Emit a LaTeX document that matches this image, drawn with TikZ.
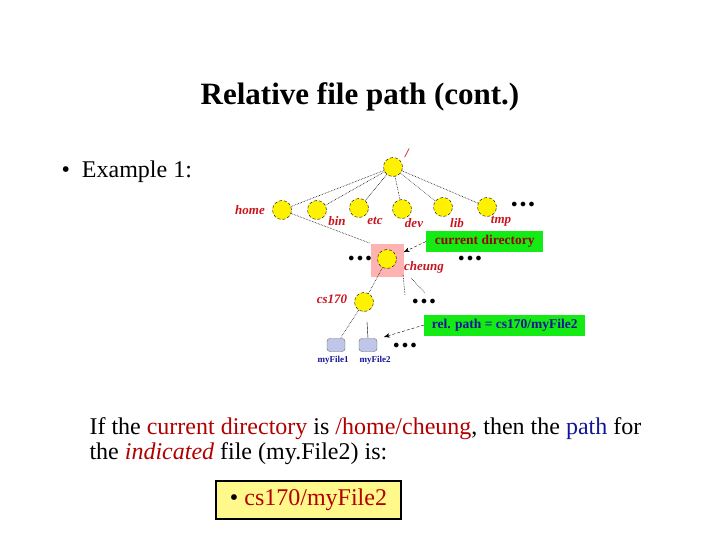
\documentclass[tikz,border=0pt]{standalone}
\usepackage{fontspec}
\setmainfont{Liberation Serif}
\usetikzlibrary{arrows.meta}
\definecolor{lbl}{RGB}{200,20,30}
\definecolor{fblue}{RGB}{20,20,150}
\definecolor{gbox}{RGB}{20,235,20}
\begin{document}
\begin{tikzpicture}[x=1pt,y=-1pt,
 dir/.style={circle,draw=black,densely dashed,fill=yellow,minimum size=19pt,inner sep=0pt},
 file/.style={rounded corners=3pt,draw=black!60,fill=cyan!35!blue!25,minimum width=18pt,minimum height=13pt,inner sep=0pt},
 lab/.style={text=lbl,font=\fontsize{13}{14}\selectfont\bfseries\itshape,inner sep=1pt},
 flab/.style={text=fblue,font=\fontsize{9}{10}\selectfont\bfseries,inner sep=1pt},
 link/.style={densely dotted,semithick},
 dots/.style={font=\fontsize{13}{13}\selectfont,inner sep=0pt},
 note/.style={fill=gbox,font=\fontsize{13.5}{14}\selectfont\bfseries,inner sep=2pt,anchor=west,minimum height=21pt},
 arr/.style={densely dashed,-{Stealth[length=6pt]}}]
\useasboundingbox (0,0) rectangle (720,540);
\node[font=\fontsize{31}{34}\selectfont\bfseries] (title) at (360,97) {Relative file path (cont.)};
\node[font=\fontsize{24}{28}\selectfont,anchor=west] (ex) at (58,172) {\textbullet\ \ Example 1:};
\node[fill=red!30,minimum size=33pt,inner sep=0pt] (pink) at (387,260) {};
\node[dir] (root) at (393,167) {};
\node[dir] (home) at (282,210) {};
\node[dir] (bin) at (317,210) {};
\node[dir] (etc) at (359,208) {};
\node[dir] (dev) at (402,209) {};
\node[dir] (lib) at (443,207) {};
\node[dir] (tmp) at (487,207) {};
\node[dots] (d1) at (523,205) {$\bullet\bullet\bullet$};
\node[dir] (cheung) at (387,259) {};
\node[dots] (d2) at (360,259) {$\bullet\bullet\bullet$};
\node[dots] (d3) at (470,259) {$\bullet\bullet\bullet$};
\node[dir] (cs) at (364,302) {};
\node[dots] (d4) at (424,302) {$\bullet\bullet\bullet$};
\node[file] (f1) at (336,345) {};
\node[file] (f2) at (368,345) {};
\node[dots] (d5) at (405,346) {$\bullet\bullet\bullet$};
\node[lab] (lroot) at (407,153) {/};
\node[lab] (lhome) at (250,210) {home};
\node[lab] (lbin) at (337,221) {bin};
\node[lab] (letc) at (375,221) {etc};
\node[lab] (ldev) at (414,223) {dev};
\node[lab] (llib) at (457,223) {lib};
\node[lab] (ltmp) at (501,221) {tmp};
\node[lab] (lcheung) at (424,267) {cheung};
\node[lab] (lcs) at (332,299) {cs170};
\node[flab] (lf1) at (333,360) {myFile1};
\node[flab] (lf2) at (375,360) {myFile2};
\foreach \c in {home,bin,etc,dev,lib,tmp} \draw[link] (root) -- (\c);
\draw[link] (home) -- (pink.west|-pink.north);
\draw[link] (cheung) -- (cs);
\coordinate (c1) at (403,275); \coordinate (c2) at (405,295);
\coordinate (c3) at (411,278); \coordinate (c4) at (425,293);
\draw[link] (c1) -- (c2); \draw[link] (c3) -- (c4);
\draw[link] (cs) -- (f1);
\coordinate (s1) at (367,322); \draw (s1) -- (f2.north);
\node[note,text=red!60!black,minimum width=117pt] (cur) at (426,241.5) {current directory};
\node[note,text=fblue,minimum width=161pt] (rel) at (424,325) {rel. path = cs170/myFile2};
\draw[arr] (cur.west) -- (pink.east|-cheung.north east);
\coordinate (a2) at (384,337);
\draw[arr] (rel.west) -- (a2);
\node[font=\fontsize{24}{25}\selectfont,anchor=north west,align=left] (txt) at (86,414)
 {If the \textcolor{red!70!black}{current directory} is \textcolor{red!70!black}{/home/cheung}, then the \textcolor{fblue}{path} for\\
  the \textcolor{red!70!black}{\itshape indicated} file (my.File2) is:};
\node[draw=black,line width=2.2pt,fill=yellow!45,minimum width=185pt,minimum height=38pt,font=\fontsize{24}{26}\selectfont,text=red!70!black] (ans) at (308.5,500) {{\color{black}\textbullet} cs170/myFile2};
\end{tikzpicture}
\end{document}
